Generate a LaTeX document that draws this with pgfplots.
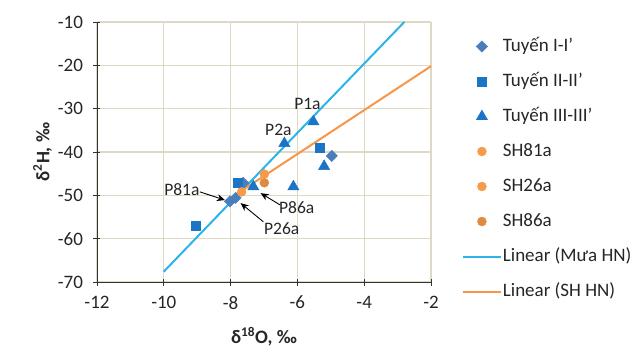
\documentclass[border=0pt]{standalone}
\usepackage{pgfplots}
\pgfplotsset{compat=1.18}
\usetikzlibrary{arrows.meta}
\usepackage{fontspec}
\setmainfont{Carlito}
\definecolor{gridc}{HTML}{DDD9C6}
\definecolor{diac}{HTML}{4A7EBB}
\definecolor{sqc}{HTML}{1C74C6}
\definecolor{orl}{HTML}{F79A4A}
\definecolor{ord}{HTML}{E08A3E}
\definecolor{bluel}{HTML}{2BB4E8}
\definecolor{orline}{HTML}{F79646}
\begin{document}
\fontsize{19bp}{22bp}\selectfont
\begin{tikzpicture}
\begin{axis}[
  at={(0,0)}, anchor=south west,
  scale only axis, width=334bp, height=260bp,
  xmin=-12, xmax=-2, ymin=-70, ymax=-10,
  xtick={-12,-10,...,-2}, ytick={-70,-60,...,-10},
  grid=major, major grid style={gridc, line width=1.1pt},
  axis x line*=bottom, axis y line*=left,
  axis line style={black!80, line width=0.8pt},
  x axis line style={-}, y axis line style={-},
  tick align=center, major tick length=7bp,
  tick style={black!80, line width=0.8pt},
  /pgf/number format/assume math mode=true,
  ticklabel style={font=\fontsize{19bp}{22bp}\selectfont, text=black!85},
  xticklabel style={yshift=-4bp},
  yticklabel style={xshift=-4bp},
  xlabel={\textbf{δ\textsuperscript{18}O, ‰}},
  ylabel={\textbf{δ\textsuperscript{2}H, ‰}},
  label style={font=\fontsize{19bp}{22bp}\selectfont, text=black!85},
  xlabel style={yshift=-5bp},
  ylabel style={yshift=-7bp},
  legend style={at={(1.092,0.945)}, anchor=north west, draw=none, fill=none,
    inner sep=0pt, row sep=15bp, font=\fontsize{19bp}{22bp}\selectfont,
    nodes={inner sep=1bp, text height=14bp, text depth=4bp, text=black!85}},
  legend cell align=left,
  legend image code/.code={\draw[mark repeat=2,mark phase=2,#1] plot coordinates {(0bp,0bp)(19bp,0bp)(38bp,0bp)};},
  clip=false,
]
\addplot[only marks, mark=square*, mark size=4bp, color=diac, every mark/.append style={rotate=45}]
  coordinates {(-4.97,-40.9) (-7.62,-47.1) (-8.02,-51.4) (-7.85,-50.6)};
\addlegendentry{Tuyến I-I'}
\addplot[only marks, mark=square*, mark size=4.5bp, color=sqc]
  coordinates {(-5.32,-38.9) (-7.80,-47.0) (-9.05,-57.1)};
\addlegendentry{Tuyến II-II'}
\addplot[only marks, mark=triangle*, mark size=6.5bp, color=sqc]
  coordinates {(-5.52,-33.0) (-6.39,-38.0) (-5.20,-43.3) (-6.12,-48.0) (-7.32,-48.0)};
\addlegendentry{Tuyến III-III'}
\addplot[only marks, mark=*, mark size=4.5bp, color=orl]
  coordinates {(-6.99,-45.1)};
\addlegendentry{SH81a}
\addplot[only marks, mark=*, mark size=4.5bp, color=orl]
  coordinates {(-7.67,-49.2)};
\addlegendentry{SH26a}
\addplot[only marks, mark=*, mark size=4.5bp, color=ord]
  coordinates {(-6.99,-47.1)};
\addlegendentry{SH86a}
\addplot[no marks, color=bluel, line width=2pt,
  legend image code/.code={\draw[bluel, line width=2pt] (0bp,0bp) -- (38bp,0bp);}]
  coordinates {(-10,-67.6) (-2.8,-10)};
\addlegendentry{Linear (Mưa HN)}
\addplot[no marks, color=orline, line width=2pt,
  legend image code/.code={\draw[orline, line width=2pt] (0bp,0bp) -- (38bp,0bp);}]
  coordinates {(-7.92,-50.2) (-2,-20.2)};
\addlegendentry{Linear (SH HN)}
\begin{scope}[every node/.style={text=black!85, font=\fontsize{17.5bp}{20bp}\selectfont}]
\node at (axis cs:-5.70,-28.8) {P1a};
\node at (axis cs:-6.57,-34.9) {P2a};
\node at (axis cs:-9.46,-48.6) {P81a};
\node at (axis cs:-6.02,-52.8) {P86a};
\node at (axis cs:-6.47,-57.6) {P26a};
\end{scope}
\draw[-{Stealth[length=8bp,width=7bp]}, black, line width=0.9pt] (axis cs:-8.92,-49.2) -- (axis cs:-8.17,-51.1);
\draw[-{Stealth[length=8bp,width=7bp]}, black, line width=0.9pt] (axis cs:-6.52,-52.2) -- (axis cs:-7.10,-49.5);
\draw[-{Stealth[length=8bp,width=7bp]}, black, line width=0.9pt] (axis cs:-7.02,-56.1) -- (axis cs:-7.70,-51.8);
\end{axis}
\path[use as bounding box] (-97bp,-68bp) rectangle (541bp,282bp);
\end{tikzpicture}
\end{document}
